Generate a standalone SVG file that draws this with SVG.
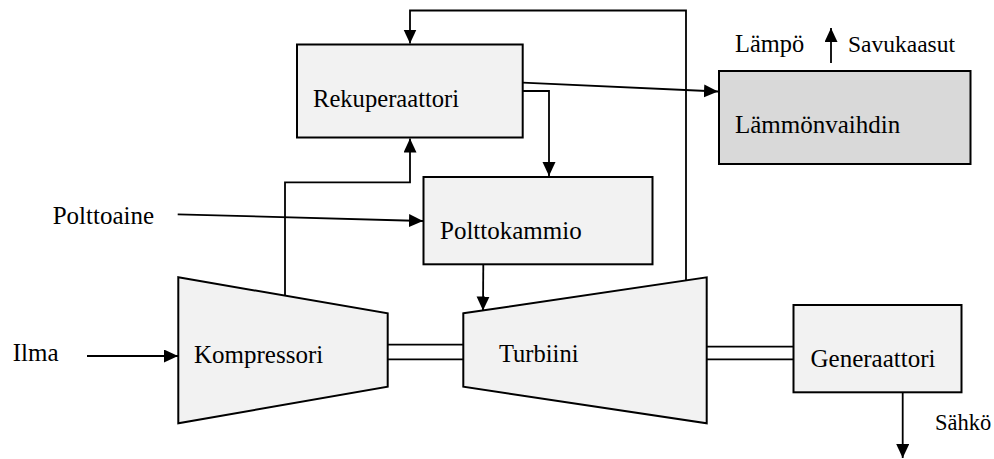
<svg xmlns="http://www.w3.org/2000/svg" width="994" height="459" viewBox="0 0 994 459">
<style>
  .box { fill: #f2f2f2; stroke: #000; stroke-width: 2; }
  .dark { fill: #d9d9d9; stroke: #000; stroke-width: 2; }
  .ln { fill: none; stroke: #000; stroke-width: 1.8; }
  .arr { fill: none; stroke: #000; stroke-width: 1.8; marker-end: url(#ah); }
  text { font-family: "Liberation Serif", "Times New Roman", serif; font-size: 25px; fill: #000; }
</style>
<defs>
  <marker id="ah" markerUnits="userSpaceOnUse" markerWidth="14" markerHeight="14" refX="14" refY="6.5" orient="auto">
    <path d="M0,0 L14,6.5 L0,13 z" fill="#000"/>
  </marker>
</defs>
<rect width="994" height="459" fill="#fff"/>

<g id="connectors">
  <line class="arr" x1="87" y1="356" x2="178" y2="356"/>
  <line class="arr" x1="177.7" y1="214.3" x2="423" y2="221"/>
  <polyline class="arr" points="285,296 285,182.3 410,182.3 410,138.5"/>
  <polyline class="arr" points="686,280 686,10.5 410,10.5 410,43.5"/>
  <line class="arr" x1="522.7" y1="82.7" x2="718" y2="91.5"/>
  <polyline class="arr" points="522.7,91 549,91 549,176"/>
  <line class="arr" x1="483.3" y1="264" x2="483" y2="310.5"/>
  <line class="arr" x1="831" y1="63" x2="831" y2="28"/>
  <line class="arr" x1="902.7" y1="392.3" x2="902.7" y2="458"/>
  <line class="ln" x1="387.7" y1="344.7" x2="463.3" y2="344.7"/>
  <line class="ln" x1="387.7" y1="359.3" x2="463.3" y2="359.3"/>
  <line class="ln" x1="706.7" y1="346.7" x2="793.5" y2="346.7"/>
  <line class="ln" x1="706.7" y1="359.3" x2="793.5" y2="359.3"/>
</g>

<g id="rekuperaattori">
  <rect class="box" x="297" y="44.5" width="225.7" height="93"/>
  <text x="313" y="107" style="font-size:24.6px">Rekuperaattori</text>
</g>
<g id="lammonvaihdin">
  <rect class="dark" x="719" y="71" width="251.5" height="93"/>
  <text x="735" y="133">Lämmönvaihdin</text>
</g>
<g id="polttokammio">
  <rect class="box" x="423.5" y="177" width="229" height="87.3"/>
  <text x="440" y="239">Polttokammio</text>
</g>
<g id="kompressori">
  <polygon class="box" points="178.3,277.3 387.7,313.3 387.7,386.7 178.3,423.3"/>
  <text x="194" y="362.5">Kompressori</text>
</g>
<g id="turbiini">
  <polygon class="box" points="463.3,313.3 706.7,277.3 706.7,423.3 463.3,386.7"/>
  <text x="499" y="361.7" style="font-size:24.5px">Turbiini</text>
</g>
<g id="generaattori">
  <rect class="box" x="793.5" y="305" width="168" height="87.3"/>
  <text x="810.5" y="367">Generaattori</text>
</g>

<g id="labels">
  <text x="12.7" y="360.7">Ilma</text>
  <text x="52.7" y="224">Polttoaine</text>
  <text x="735" y="52" style="font-size:24.4px">Lämpö</text>
  <text x="848" y="52" style="font-size:23.5px">Savukaasut</text>
  <text x="935" y="430" style="font-size:22.5px">Sähkö</text>
</g>
</svg>
